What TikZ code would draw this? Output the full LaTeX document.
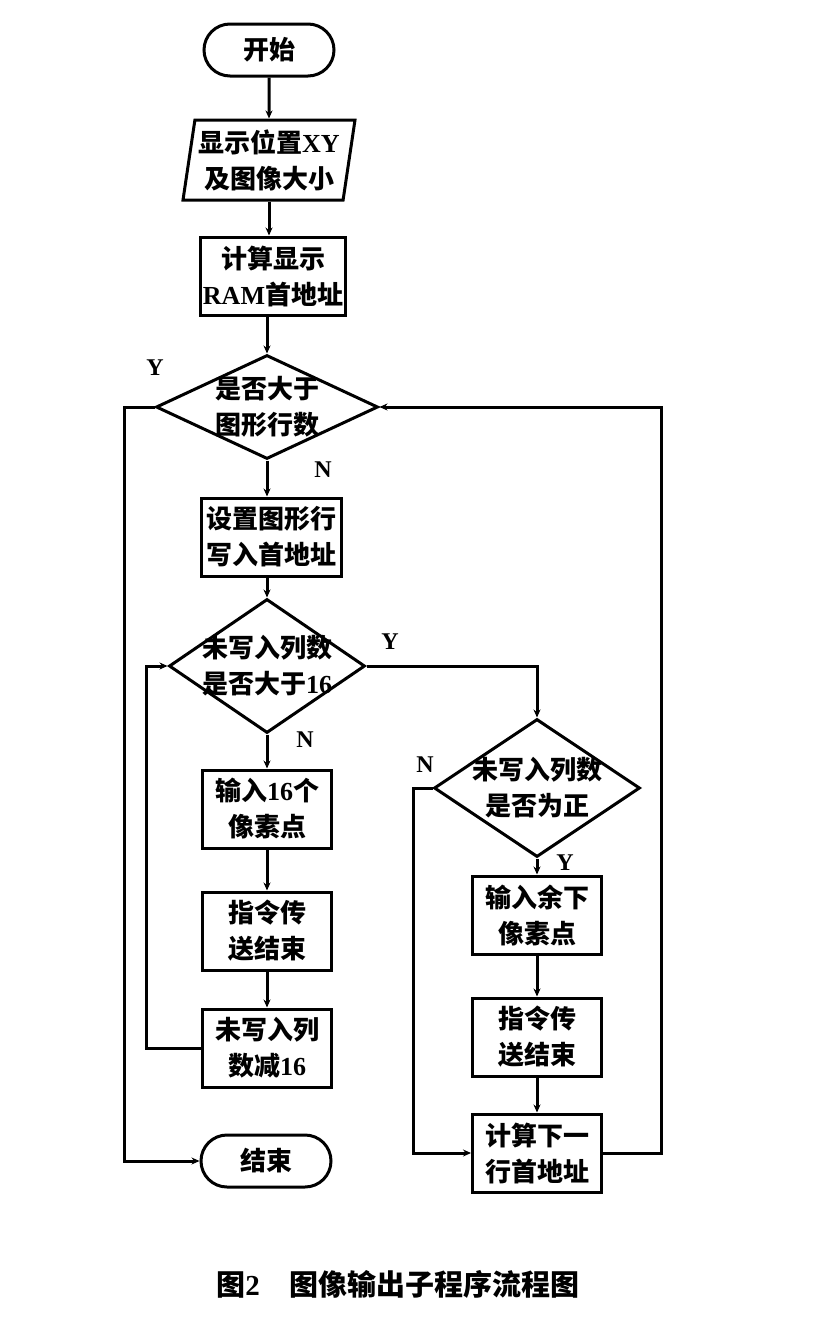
\documentclass[tikz,border=0pt]{standalone}
\usepackage{fontspec}
\setmainfont{Liberation Serif}
\newfontfamily\cjk{Noto Sans CJK SC}
\newcommand{\zh}[1]{{\cjk #1}}
\usetikzlibrary{shapes.geometric,arrows.meta}
\begin{document}
\begin{tikzpicture}[x=1pt,y=-1pt,
  every node/.style={font=\bfseries\fontsize{26}{36}\selectfont},
  arr/.style={line width=3pt,-{Stealth[length=8pt,width=7pt]}},
  procbox/.style={draw,line width=3pt,minimum width=129pt,minimum height=78pt,inner sep=0pt,align=center},
  termbox/.style={draw,line width=3pt,rounded corners=26pt,minimum width=130pt,minimum height=52pt,inner sep=0pt},
  decbox/.style={draw,diamond,line width=3pt,inner sep=0pt},
  dectext/.style={align=center,inner sep=0pt},
  yn/.style={font=\bfseries\fontsize{24}{24}\selectfont,inner sep=0pt}
]
\useasboundingbox (0,0) rectangle (824,1328);
% nodes
\node[termbox] (start) at (269,50) {\zh{开始}};
\node[draw,trapezium,trapezium left angle=79,trapezium right angle=101,trapezium stretches body,line width=3pt,minimum width=172pt,minimum height=80pt,inner sep=0pt,align=center] (para) at (269,160) {\zh{显示位置}XY\\\zh{及图像大小}};
\node[procbox,minimum width=145pt] (calc) at (273,276) {\zh{计算显示}\\RAM\zh{首地址}};
\node[decbox,minimum width=222pt,minimum height=104pt] (d1) at (267,407) {};
\node[dectext] (d1t) at (267,407) {\zh{是否大于}\\\zh{图形行数}};
\node[procbox,minimum width=140pt] (setrow) at (271,537) {\zh{设置图形行}\\\zh{写入首地址}};
\node[decbox,minimum width=196pt,minimum height=134pt] (d2) at (267,666) {};
\node[dectext] (d2t) at (267,666) {\zh{未写入列数}\\\zh{是否大于}16};
\node[procbox] (in16) at (267,809) {\zh{输入}16\zh{个}\\\zh{像素点}};
\node[procbox] (endl) at (267,931) {\zh{指令传}\\\zh{送结束}};
\node[procbox] (sub16) at (267,1048) {\zh{未写入列}\\\zh{数减}16};
\node[termbox] (stop) at (266,1161) {\zh{结束}};
\node[decbox,minimum width=206pt,minimum height=138pt] (d3) at (537,788) {};
\node[dectext] (d3t) at (537,788) {\zh{未写入列数}\\\zh{是否为正}};
\node[procbox] (inrest) at (537,915) {\zh{输入余下}\\\zh{像素点}};
\node[procbox] (endr) at (537,1037) {\zh{指令传}\\\zh{送结束}};
\node[procbox] (nextrow) at (537,1153) {\zh{计算下一}\\\zh{行首地址}};
% labels
\node[yn] (l1) at (155,368) {Y};
\node[yn] (l2) at (323,470) {N};
\node[yn] (l3) at (390,642) {Y};
\node[yn] (l4) at (305,740) {N};
\node[yn] (l5) at (425,765) {N};
\node[yn] (l6) at (565,863) {Y};
% connectors
\draw[arr] (start.south) -- (para.north);
\draw[arr] (para.south) -- (calc.north -| para.south);
\draw[arr] (calc.south -| d1.north) -- (d1.north);
\draw[arr] (d1.south) -- (d1.south |- setrow.north);
\draw[arr] (d1.south |- setrow.south) -- (d2.north);
\draw[arr] (d2.south) -- (in16.north);
\draw[arr] (in16.south) -- (endl.north);
\draw[arr] (endl.south) -- (sub16.north);
\draw[arr] (sub16.west) -- ++(-55,0) |- (d2.west);
\draw[arr] (d1.west) -- ++(-30,0) |- (stop.west);
\draw[arr] (d2.east) -| (d3.north);
\draw[arr] (d3.south) -- (inrest.north);
\draw[arr] (inrest.south) -- (endr.north);
\draw[arr] (endr.south) -- (nextrow.north);
\draw[arr] (d3.west) -- ++(-19,0) |- (nextrow.west);
\draw[arr] (nextrow.east) -- ++(58,0) |- (d1.east);
% caption
\node[font=\bfseries\fontsize{29}{29}\selectfont] (cap) at (398,1284) {\zh{图}2\hspace{30pt}\zh{图像输出子程序流程图}};
\end{tikzpicture}
\end{document}
